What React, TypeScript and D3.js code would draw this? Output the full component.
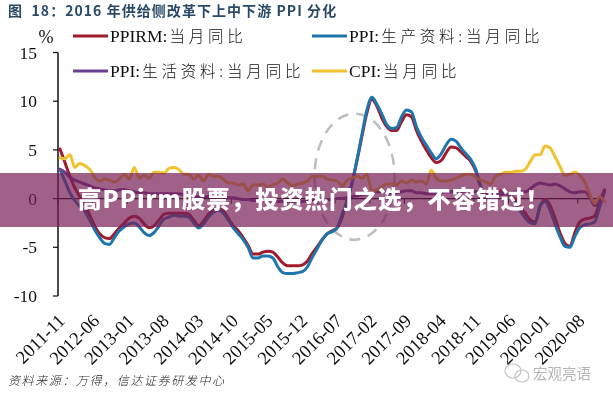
import React from "react";
import * as d3 from "d3";

const tickLabels = ["2011-11","2012-06","2013-01","2013-08","2014-03","2014-10","2015-05","2015-12","2016-07","2017-02","2017-09","2018-04","2018-11","2019-06","2020-01","2020-08"];
const yTicks = [15,10,5,0,-5,-10];

const ppirm = [
  5.1,3.7,2.3,1.1,0.2,-0.6,-1.7,-2.8,-3.6,-4.0,
  -4.1,-3.6,-3.0,-2.5,-2.0,-1.8,-2.0,-2.6,-3.0,-2.8,
  -2.2,-1.6,-1.5,-1.5,-1.5,-1.5,-1.6,-2.2,-2.8,-2.3,
  -1.6,-1.2,-1.1,-1.3,-2.0,-2.8,-3.3,-4.0,-4.8,-5.7,
  -5.7,-5.5,-5.4,-5.5,-6.0,-6.6,-6.9,-6.9,-6.9,-6.8,
  -6.4,-5.6,-4.9,-4.2,-3.6,-3.3,-3.0,-1.9,-0.1,1.6,
  3.9,6.4,8.8,10.2,9.5,8.3,7.4,7.0,7.0,7.9,
  8.6,8.4,7.0,5.9,5.0,4.2,3.7,3.9,4.7,5.3,
  5.2,4.8,4.3,3.8,2.8,1.2,0.3,0.2,0.3,0.8,
  0.8,0.3,-0.1,-0.9,-1.5,-2.2,-2.4,-0.8,-0.1,-0.7,
  -2.0,-3.5,-4.6,-4.9,-3.5,-2.4,-2.1,-2.0,-1.8,-0.4,0.9,
];
const ppiProduction = [
  3.0,1.8,0.6,-0.2,-0.8,-1.3,-2.2,-3.2,-4.0,-4.6,
  -4.7,-4.0,-3.3,-2.9,-2.6,-2.5,-2.9,-3.5,-3.8,-3.5,
  -2.8,-2.1,-1.9,-1.7,-1.8,-1.8,-1.9,-2.5,-3.0,-2.6,
  -1.9,-1.4,-1.2,-1.5,-2.2,-3.0,-3.6,-4.2,-5.0,-6.1,
  -6.1,-5.9,-5.9,-6.1,-7.0,-7.6,-7.7,-7.7,-7.6,-7.5,
  -7.0,-6.0,-5.1,-4.2,-3.6,-3.4,-3.0,-1.6,-0.3,1.6,
  4.0,6.6,9.1,10.4,9.7,8.7,7.6,7.2,7.3,8.4,
  9.1,8.9,7.4,6.3,5.5,4.7,4.1,4.6,5.5,6.1,
  5.9,5.2,4.6,4.0,3.0,1.2,0.2,0.1,0.1,0.6,
  0.6,0.0,-0.5,-1.3,-2.0,-2.5,-2.6,-0.7,-0.3,-1.2,
  -2.6,-3.9,-4.9,-5.0,-3.9,-3.0,-2.7,-2.6,-2.4,-0.9,0.7,
];
const ppiLiving = [
  3.0,2.7,2.2,1.9,1.7,1.5,1.3,1.1,1.0,0.9,
  0.8,0.8,0.9,0.9,0.8,0.7,0.6,0.6,0.5,0.5,
  0.5,0.5,0.5,0.5,0.5,0.4,0.3,0.2,0.2,0.2,
  0.2,0.3,0.2,0.2,0.1,0.1,0.0,-0.1,-0.1,-0.2,
  -0.2,-0.2,-0.2,-0.3,-0.3,-0.3,-0.3,-0.3,-0.3,-0.3,
  -0.2,-0.2,-0.2,-0.2,-0.1,-0.1,0.0,0.0,0.1,0.2,
  0.3,0.4,0.5,0.6,0.7,0.7,0.6,0.5,0.6,0.7,
  0.8,0.8,0.6,0.6,0.5,0.5,0.5,0.6,0.7,0.7,
  0.7,0.7,0.8,0.8,0.7,0.7,0.5,0.4,0.4,0.4,
  0.5,0.6,0.7,0.7,0.7,1.0,1.4,1.6,1.5,1.4,
  1.5,1.3,1.0,0.7,0.6,0.7,0.7,0.2,-0.7,-0.2,0.7,
];
const cpi = [
  4.2,4.1,4.5,3.2,3.6,3.4,3.0,2.2,1.8,2.0,
  1.9,1.7,2.0,2.5,2.0,3.2,2.1,2.4,2.1,2.7,
  2.7,2.6,3.1,3.2,3.0,2.5,2.5,2.0,2.4,1.8,
  2.5,2.3,2.3,2.0,1.6,1.6,1.4,1.5,0.8,1.4,
  1.4,1.5,1.2,1.4,1.6,2.0,1.6,1.3,1.5,1.6,
  1.8,2.3,2.3,2.3,2.0,1.9,1.8,1.3,1.9,2.1,
  2.3,2.1,2.5,0.8,0.9,1.2,1.5,1.5,1.4,1.8,
  1.6,1.9,1.7,1.8,1.5,2.9,2.1,1.8,1.8,1.9,
  2.1,2.3,2.5,2.5,2.2,1.9,1.7,1.5,2.3,2.5,
  2.7,2.7,2.8,2.8,3.0,3.8,4.5,4.5,5.4,5.2,
  4.3,3.3,2.4,2.5,2.7,2.4,1.7,0.5,-0.5,0.2,-0.3,
];

const SERIF = "'Liberation Serif','Noto Sans CJK SC',serif";
const CJK = "'Noto Sans CJK SC',sans-serif";

const x = d3.scaleLinear().domain([0, 110]).range([60, 604.5]);
const y = d3.scaleLinear().domain([-10, 15]).range([296, 52.5]);
const line = d3.line<number>().x((_, i) => x(i)).y((d) => y(d)).curve(d3.curveMonotoneX);

const series = [
  { v: ppirm, c: "#a11a2c" },
  { v: ppiProduction, c: "#1f76ad" },
  { v: ppiLiving, c: "#6b3f92" },
  { v: cpi, c: "#efc22f" },
];

const legend = [
  { name: "PPIRM:", cn: "当月同比", c: "#a11a2c", lx: 73, ly: 36 },
  { name: "PPI:", cn: "生产资料:当月同比", c: "#1f76ad", lx: 312, ly: 36 },
  { name: "PPI:", cn: "生活资料:当月同比", c: "#6b3f92", lx: 73, ly: 71 },
  { name: "CPI:", cn: "当月同比", c: "#efc22f", lx: 312, ly: 71 },
];

function LegendEntry({ name, cn, c, lx, ly }: any) {
  return (
    <g>
      <line x1={lx} x2={lx + 35} y1={ly} y2={ly} stroke={c} strokeWidth={3} />
      <text x={lx + 37} y={ly + 6} fontFamily={SERIF} fontSize={17.5} fill="#111">
        {name}
        <tspan fontFamily={CJK} fontSize={15.5} fontWeight={300} letterSpacing={3.8} dx={2}>{cn}</tspan>
      </text>
    </g>
  );
}

export default function App() {
  return (
    <svg width={613} height={400} viewBox="0 0 613 400" style={{ position: "absolute", left: 0, top: 0, background: "#fff" }}>
      <defs>
        <filter id="soft" x="0" y="0" width="100%" height="100%" filterUnits="userSpaceOnUse">
          <feGaussianBlur stdDeviation="0.35" />
        </filter>
      </defs>
      <g filter="url(#soft)">
        <text x={8} y={15.5} fontFamily={CJK} fontWeight={700} fontSize={14} fill="#2a4a68" letterSpacing={1.05} xmlSpace="preserve">图  18：2016 年供给侧改革下上中下游 PPI 分化</text>

        <text x={46} y={43} textAnchor="middle" fontFamily={SERIF} fontSize={18} fill="#111">%</text>
        {legend.map((l, i) => <LegendEntry key={i} {...l} />)}

        <ellipse cx={x(59.5)} cy={y(2.25)} rx={40} ry={63} fill="none" stroke="#bdbdbd" strokeWidth={2.5} strokeDasharray="11 8" />

        <line x1={58} x2={58} y1={y(15)} y2={y(-10)} stroke="#111" strokeWidth={1.5} />
        {yTicks.map((t) => (
          <g key={t}>
            <line x1={53} x2={58} y1={y(t)} y2={y(t)} stroke="#111" strokeWidth={1.2} />
            <text x={37} y={y(t) + 6} textAnchor="end" fontFamily={SERIF} fontSize={17.5} fill="#111">{t}</text>
          </g>
        ))}
        <line x1={58} x2={604} y1={y(0)} y2={y(0)} stroke="#111" strokeWidth={1.2} />
        {tickLabels.map((t, i) => {
          const px = x(i * 7) - 2;
          return (
            <g key={t}>
              <line x1={px} x2={px} y1={y(0)} y2={y(0) + 5} stroke="#111" strokeWidth={1} />
              <text transform={`translate(${px + 8},${322}) rotate(-45)`} textAnchor="end" fontFamily={SERIF} fontSize={18.5} fill="#111">{t}</text>
            </g>
          );
        })}

        {series.map((s, i) => (
          <path key={i} d={line(s.v) ?? ""} fill="none" stroke={s.c} strokeWidth={3} strokeLinejoin="round" strokeLinecap="round" />
        ))}

        <text x={8} y={385} fontFamily={CJK} fontStyle="italic" fontSize={12} fontWeight={300} fill="#222" letterSpacing={1.6}>资料来源：万得，信达证券研发中心</text>

        <g fill="none" stroke="#c4c4c4" strokeWidth={1.2}>
          <ellipse cx={513} cy={371} rx={8} ry={7} />
          <ellipse cx={522} cy={376} rx={7} ry={6} />
        </g>
        <text x={533} y={379} fontFamily={CJK} fontSize={14.5} fill="#b5b5b5">宏观亮语</text>
      </g>

      <rect x={0} y={173} width={613} height={54} fill="rgb(120,30,85)" fillOpacity={0.7} />
      <text x={78} y={208} fontFamily={CJK} fontWeight={900} fontSize={23.5} fill="#fff" letterSpacing={1.05}>高PPirm股票，投资热门之选，不容错过！</text>
    </svg>
  );
}
